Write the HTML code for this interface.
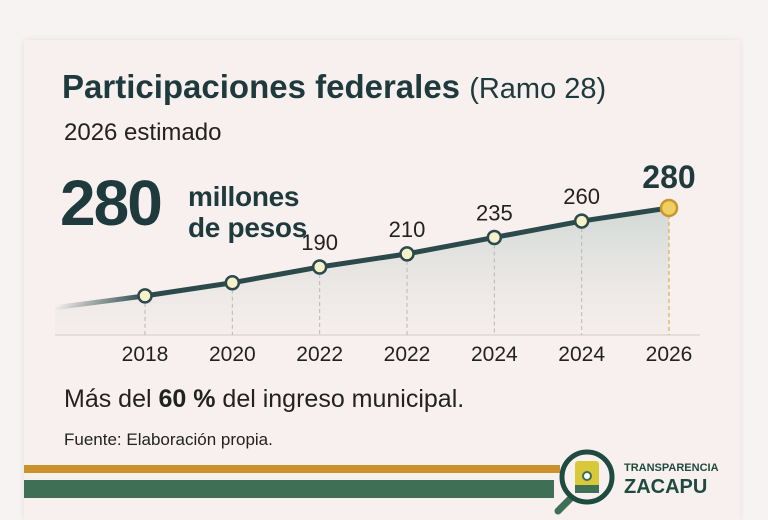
<!DOCTYPE html>
<html><head><meta charset="utf-8"><style>
body{margin:0;width:768px;height:512px;background:#f7f3f3;overflow:hidden;font-family:"Liberation Sans",sans-serif;color:#1f3a3d}
#card{position:absolute;left:24px;top:40px;width:716px;height:480px;background:#f8f0ef;box-shadow:0 0 6px rgba(0,0,0,.08)}
.t{position:absolute;white-space:nowrap}
</style></head><body>
<div id="card"></div>
<div class="t" style="left:62px;top:68px;font-size:33px;font-weight:bold;color:#1e3a3c">Participaciones federales <span style="font-weight:normal;font-size:29px">(Ramo 28)</span></div>
<div class="t" style="left:64px;top:119px;font-size:24px;color:#222">2026 estimado</div>
<div class="t" style="left:60px;top:166px;font-size:64px;font-weight:bold;letter-spacing:-2px;color:#1f3a3d">280</div>
<div class="t" style="left:188px;top:181px;font-size:28px;font-weight:bold;line-height:31px;letter-spacing:-0.3px;color:#1f3a3d">millones<br>de pesos</div>
<svg id="chart" width="768" height="512" style="position:absolute;left:0;top:0">
<defs>
<linearGradient id="ar" x1="0" y1="0" x2="0" y2="1"><stop offset="0" stop-color="#c8d3cf" stop-opacity=".8"/><stop offset="1" stop-color="#ece8e5" stop-opacity=".3"/></linearGradient>
<linearGradient id="lf" x1="0" x2="1"><stop offset="0" stop-color="#2c4a4b" stop-opacity="0"/><stop offset="1" stop-color="#2c4a4b"/></linearGradient>
</defs>
</svg>
<div class="t" style="left:64px;top:385px;font-size:25px;color:#222">Más del <b>60 %</b> del ingreso municipal.</div>
<div class="t" style="left:64px;top:430px;font-size:17px;color:#222">Fuente: Elaboración propia.</div>
<div style="position:absolute;left:24px;top:465px;width:536px;height:8px;background:#c9922a"></div>
<div style="position:absolute;left:24px;top:480px;width:530px;height:18px;background:#3f6f55"></div>
<svg width="70" height="70" style="position:absolute;left:550px;top:445px">
<line x1="22" y1="52" x2="8" y2="66" stroke="#3f6f55" stroke-width="7" stroke-linecap="round"/>
<circle cx="37" cy="32" r="25" fill="#f8f0ef" stroke="#1f4a40" stroke-width="5"/>
<rect x="25" y="16" width="24" height="32" rx="3" fill="#d9c93a"/>
<rect x="25" y="40" width="24" height="8" fill="#3f6f55"/>
<circle cx="37" cy="31" r="4" fill="#fff" stroke="#3f6f55" stroke-width="2"/>
</svg>
<div class="t" style="left:624px;top:462px;font-size:11px;font-weight:bold;color:#1f4a40">TRANSPARENCIA</div>
<div class="t" style="left:624px;top:476px;font-size:20px;font-weight:bold;color:#1f4a40">ZACAPU</div>
<script>
const categories=["2018","2020","2022","2022","2024","2024","2026"];
const values=[146,166,190,210,235,260,280];
const labels=["","","190","210","235","260","280"];
const svg=document.getElementById('chart');const NS='http://www.w3.org/2000/svg';
const x=i=>145+i*(669-145)/(categories.length-1);
const y=v=>267-(v-190)*0.656;
const base=335;
function mk(t,a){const e=document.createElementNS(NS,t);for(const k in a)e.setAttribute(k,a[k]);svg.appendChild(e);return e;}
const n=values.length;
const x0=55,y0=y(values[0])+(y(values[0])-y(values[1]))*0.9;
let d=`M${x0},${base} L${x0},${y0} `+values.map((v,i)=>`L${x(i)},${y(v)}`).join(' ')+` L${x(n-1)},${base} Z`;
const area=mk('path',{d,fill:'url(#ar)'});


const ax=mk('line',{x1:55,y1:base,x2:700,y2:base,stroke:'#cfcac8','stroke-width':1});


const lead=mk('line',{x1:x0,y1:y0,x2:x(0),y2:y(values[0]),stroke:'url(#lf)','stroke-width':5});


values.forEach((v,i)=>{const last=i==n-1;
const g=mk('line',{x1:x(i),y1:y(v),x2:x(i),y2:base,stroke:last?'#d9a531':'#b8b8b8','stroke-width':1,'stroke-dasharray':'4,3'});

});
const ln=mk('polyline',{points:values.map((v,i)=>x(i)+','+y(v)).join(' '),fill:'none',stroke:'#2c4a4b','stroke-width':5,'stroke-linejoin':'round'});


values.forEach((v,i)=>{const last=i==n-1;
const c=mk('circle',{cx:x(i),cy:y(v),r:last?8:6.5,fill:last?'#f0cf62':'#f6f1c8',stroke:last?'#c8962a':'#2c4a4b','stroke-width':2.5});


if(labels[i]){const t=mk('text',{x:x(i),y:last?y(v)-20:y(v)-17,'text-anchor':'middle','font-size':last?32:22,'font-weight':last?'bold':'normal',fill:last?'#1f3a3d':'#222','font-family':'Liberation Sans'});t.textContent=labels[i];

}
const tk=mk('text',{x:x(i),y:361,'text-anchor':'middle','font-size':21,fill:'#222','font-family':'Liberation Sans'});tk.textContent=categories[i];

});
</script>
</body></html>
